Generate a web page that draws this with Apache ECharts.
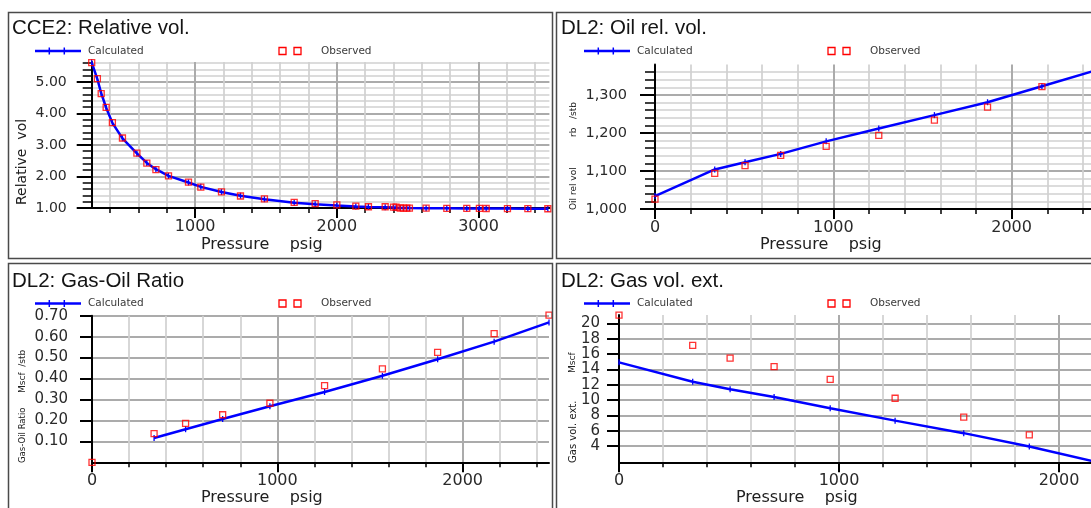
<!DOCTYPE html>
<html>
<head>
<meta charset="utf-8">
<script src="https://cdn.jsdelivr.net/npm/echarts@6/dist/echarts.min.js"></script>
<style>
  html, body { margin: 0; padding: 0; background: #ffffff; }
  #chart { width: 1091px; height: 508px; }
</style>
</head>
<body>
<div id="chart"></div>
<script>
// ---- CCE2: relative volume vs pressure (psig) ----
const ccePressure = [270, 310, 337, 372, 416, 487, 589, 659, 723, 812, 953, 1040, 1186, 1320, 1489,
  1699, 1847, 2000, 2134, 2223, 2341, 2400, 2418, 2447, 2470, 2494, 2512, 2630, 2776, 2917, 3006,
  3054, 3204, 3348, 3489];
const cceRelVolObs = [5.61, 5.10, 4.63, 4.19, 3.71, 3.22, 2.74, 2.42, 2.22, 2.02, 1.82, 1.66, 1.51,
  1.38, 1.29, 1.18, 1.14, 1.10, 1.06, 1.04, 1.04, 1.03, 1.03, 1.00, 0.999, 0.998, 0.997, 0.993,
  0.990, 0.987, 0.985, 0.984, 0.981, 0.978, 0.976];
const cceRelVolCalc = [5.62, 5.09, 4.64, 4.18, 3.70, 3.21, 2.73, 2.43, 2.23, 2.02, 1.81, 1.67, 1.51,
  1.39, 1.28, 1.17, 1.12, 1.08, 1.05, 1.035, 1.02, 1.012, 1.008, 1.002, 0.999, 0.998, 0.997, 0.994,
  0.991, 0.988, 0.986, 0.985, 0.982, 0.979, 0.977];

// ---- DL2: differential liberation stages (psig) ----
const dlPressure = [0, 335, 505, 705, 960, 1255, 1567, 1865, 2170, 2466];
const oilRelVolObs = [1.026, 1.094, 1.114, 1.141, 1.165, 1.194, 1.234, 1.268, 1.322];
const oilRelVolCalc = [1.034, 1.104, 1.123, 1.145, 1.178, 1.212, 1.247, 1.281, 1.323, 1.364];
const gorObs = [0.0, 0.137, 0.186, 0.227, 0.282, 0.366, 0.446, 0.525, 0.614, 0.703];
const gorCalcPressure = [335, 505, 705, 960, 1255, 1567, 1865, 2170, 2466];
const gorCalc = [0.116, 0.158, 0.207, 0.268, 0.336, 0.413, 0.492, 0.576, 0.668];
const gasExpObs = [21.08, 17.14, 15.49, 14.36, 12.72, 10.25, 7.78, 5.48];
const gasExpCalcPressure = [0, 335, 505, 705, 960, 1255, 1567, 1865, 2170];
const gasExpCalc = [14.93, 12.41, 11.42, 10.42, 8.95, 7.33, 5.70, 3.96, 1.95];

// ---- tick labels ----
const cceXTicks = [1000, 2000, 3000];
const dlXTicks = [0, 1000, 2000];
const cceYTicks = [1, 2, 3, 4, 5];
const oilYTicks = [1.0, 1.1, 1.2, 1.3];
const gorYTicks = [0.1, 0.2, 0.3, 0.4, 0.5, 0.6, 0.7];
const gasYTicks = [4, 6, 8, 10, 12, 14, 16, 18, 20];

const BLUE = '#0000ff';
const RED = '#ff0000';
const SMALL_FONT = 'DejaVu Sans';

function pairs(xs, ys) { return ys.map((y, i) => [xs[i], y]); }
function fixedFmt(d) { return v => Number(v).toFixed(d); }
function commaFmt(d) { return v => Number(v).toFixed(d).replace('.', ','); }

function axis(gridIndex, o) {
  return {
    type: 'value',
    gridIndex: gridIndex,
    min: o.min,
    max: o.max,
    minInterval: o.step,
    maxInterval: o.step,
    axisLine: { show: true, onZero: false, lineStyle: { color: '#000', width: 2 } },
    axisTick: { show: true, customValues: o.ticks, length: o.tickLen,
      lineStyle: { color: '#000', width: 2 } },
    minorTick: { show: !!o.minor, splitNumber: o.minor || 5, length: o.minorLen || 5,
      lineStyle: { color: '#000', width: 1.5 } },
    axisLabel: { customValues: o.ticks, formatter: o.fmt, margin: o.margin,
      fontFamily: SMALL_FONT, fontSize: o.fontSize, color: '#2a2a2a' },
    splitLine: { show: true, lineStyle: { color: '#ababab', width: 2 } },
    minorSplitLine: { show: !!o.minor, lineStyle: { color: '#d0d0d0', width: 1.7 } }
  };
}

const grids = [
  { left: 91.7, top: 62, width: 457.7, height: 146 },
  { left: 655, top: 64.6, width: 439.7, height: 144.4 },
  { left: 92, top: 315.7, width: 457, height: 146.6 },
  { left: 619, top: 315, width: 479.6, height: 147.3 }
].map(g => Object.assign({ containLabel: false, outerBoundsMode: 'none' }, g));

const intFmt = v => String(Math.round(v));

const xAxes = [
  axis(0, { min: 270, max: 3500, step: 1000, ticks: cceXTicks, tickLen: 10, minor: 5, minorLen: 5,
    fmt: intFmt, margin: 11, fontSize: 16 }),
  axis(1, { min: 0, max: 2466, step: 1000, ticks: dlXTicks, tickLen: 10, minor: 5, minorLen: 5,
    fmt: intFmt, margin: 11, fontSize: 16 }),
  axis(2, { min: 0, max: 2466, step: 1000, ticks: dlXTicks, tickLen: 10, minor: 5, minorLen: 5,
    fmt: intFmt, margin: 11, fontSize: 16 }),
  axis(3, { min: 0, max: 2180, step: 1000, ticks: dlXTicks, tickLen: 10, minor: 5, minorLen: 5,
    fmt: intFmt, margin: 11, fontSize: 16 })
];
const yAxes = [
  axis(0, { min: 1, max: 5.63, step: 1, ticks: cceYTicks, tickLen: 15, minor: 5, minorLen: 9,
    fmt: fixedFmt(2), margin: 25, fontSize: 14 }),
  axis(1, { min: 1.0, max: 1.38, step: 0.1, ticks: oilYTicks, tickLen: 15, minor: 5, minorLen: 10,
    fmt: commaFmt(3), margin: 28, fontSize: 14.5 }),
  axis(2, { min: 0, max: 0.70, step: 0.1, ticks: gorYTicks, tickLen: 12,
    fmt: fixedFmt(2), margin: 24, fontSize: 15 }),
  axis(3, { min: 1.9, max: 21.1, step: 2, ticks: gasYTicks, tickLen: 12,
    fmt: intFmt, margin: 19, fontSize: 15 })
];

function calcSeries(i, data) {
  return {
    type: 'line', xAxisIndex: i, yAxisIndex: i, data: data, clip: false, z: 2,
    symbol: 'rect', symbolSize: [1.3, 6], showSymbol: true,
    itemStyle: { color: BLUE }, lineStyle: { color: BLUE, width: 2.5 }
  };
}
function obsSeries(i, data) {
  return {
    type: 'scatter', xAxisIndex: i, yAxisIndex: i, data: data, clip: false, z: 3,
    symbol: 'rect', symbolSize: 6,
    itemStyle: { color: 'rgba(0,0,0,0)', borderColor: RED, borderWidth: 1.3 }
  };
}

const series = [
  calcSeries(0, pairs(ccePressure, cceRelVolCalc)),
  obsSeries(0, pairs(ccePressure, cceRelVolObs)),
  calcSeries(1, pairs(dlPressure, oilRelVolCalc)),
  obsSeries(1, pairs(dlPressure, oilRelVolObs)),
  calcSeries(2, pairs(gorCalcPressure, gorCalc)),
  obsSeries(2, pairs(dlPressure, gorObs)),
  calcSeries(3, pairs(gasExpCalcPressure, gasExpCalc)),
  obsSeries(3, pairs(dlPressure, gasExpObs))
];

// ---- panel frames, titles, legends and axis names ----
const panels = [
  { dx: 0, dy: 0, title: 'CCE2: Relative vol.',
    yName: 'Relative  vol', yNameSize: 14, yNameX: 22.5, yNameY: 205,
    yUnit: '', yUnitSize: 9, yUnitY: 0, xNameX: 201 },
  { dx: 549, dy: 0, title: 'DL2: Oil rel. vol.',
    yName: 'Oil rel vol', yNameSize: 9, yNameX: 574, yNameY: 210,
    yUnit: 'rb   /stb', yUnitSize: 9, yUnitY: 137, xNameX: 760 },
  { dx: 0, dy: 252.5, title: 'DL2: Gas-Oil Ratio',
    yName: 'Gas-Oil Ratio', yNameSize: 8.5, yNameX: 22.5, yNameY: 463,
    yUnit: 'Mscf  /stb', yUnitSize: 9, yUnitY: 393, xNameX: 201 },
  { dx: 549, dy: 252.5, title: 'DL2: Gas vol. ext.',
    yName: 'Gas vol. ext.', yNameSize: 10, yNameX: 573, yNameY: 463,
    yUnit: 'Mscf', yUnitSize: 9, yUnitY: 373, xNameX: 736 }
];

function vText(x, y, text, size) {
  return { type: 'text', z: 100, x: x, y: y, rotation: Math.PI / 2,
    style: { text: text, fontFamily: SMALL_FONT, fontSize: size, fill: '#202020',
      verticalAlign: 'middle', align: 'left' } };
}

const graphics = [];
panels.forEach((p, i) => {
  const left = i % 2 === 0 ? 8.5 : 556.5;
  const top = i < 2 ? 12.5 : 263.5;
  graphics.push({ type: 'rect', z: 100, silent: true,
    shape: { x: left, y: top, width: 544, height: i < 2 ? 246 : 260 },
    style: { fill: null, stroke: '#4a4a4a', lineWidth: 1.5 } });
  graphics.push({ type: 'text', z: 100, x: 12 + p.dx, y: 28.5 + p.dy,
    style: { text: p.title, fontFamily: 'Liberation Sans', fontSize: 20.5, fill: '#141414',
      verticalAlign: 'middle', align: 'left' } });
  const ly = 51 + p.dy;
  graphics.push({ type: 'line', z: 100, shape: { x1: 35 + p.dx, y1: ly, x2: 81 + p.dx, y2: ly },
    style: { stroke: BLUE, lineWidth: 2.5 } });
  [49.3, 64.3].forEach(tx => graphics.push({ type: 'line', z: 100,
    shape: { x1: tx + p.dx, y1: ly - 3.5, x2: tx + p.dx, y2: ly + 3.5 },
    style: { stroke: BLUE, lineWidth: 1.5 } }));
  graphics.push({ type: 'text', z: 100, x: 88 + p.dx, y: ly,
    style: { text: 'Calculated', fontFamily: SMALL_FONT, fontSize: 10.5, fill: '#3a3a3a',
      verticalAlign: 'middle', align: 'left' } });
  [282.5, 297.5].forEach(sx => graphics.push({ type: 'rect', z: 100,
    shape: { x: sx + p.dx - 3.5, y: ly - 3.5, width: 7, height: 7 },
    style: { fill: null, stroke: RED, lineWidth: 1.3 } }));
  graphics.push({ type: 'text', z: 100, x: 321 + p.dx, y: ly,
    style: { text: 'Observed', fontFamily: SMALL_FONT, fontSize: 10.5, fill: '#3a3a3a',
      verticalAlign: 'middle', align: 'left' } });
  graphics.push(vText(p.yNameX, p.yNameY, p.yName, p.yNameSize));
  if (p.yUnit) graphics.push(vText(p.yNameX, p.yUnitY, p.yUnit, p.yUnitSize));
  graphics.push({ type: 'text', z: 100, x: p.xNameX, y: 245 + p.dy,
    style: { text: 'Pressure    psig', fontFamily: SMALL_FONT, fontSize: 16, fill: '#202020',
      verticalAlign: 'middle', align: 'left' } });
});

const chart = echarts.init(document.getElementById('chart'), null, { renderer: 'canvas' });
chart.setOption({
  animation: false,
  backgroundColor: '#ffffff',
  grid: grids,
  xAxis: xAxes,
  yAxis: yAxes,
  series: series,
  graphic: { elements: graphics }
});
</script>
</body>
</html>
